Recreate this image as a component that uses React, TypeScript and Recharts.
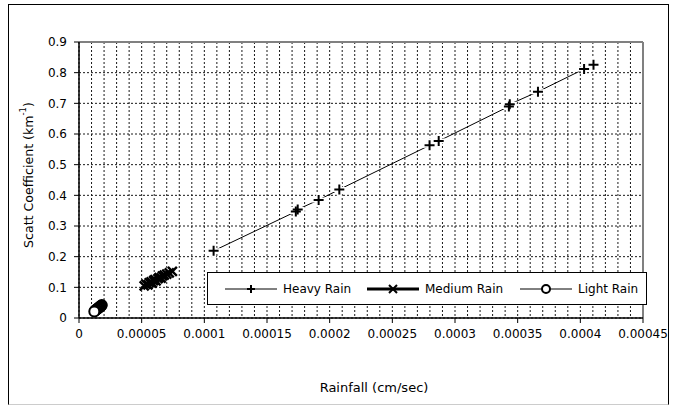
import React from 'react';
import { ScatterChart, Scatter, XAxis, YAxis, CartesianGrid, ReferenceLine, Legend } from 'recharts';

const heavyRain = [
  { x: 0.0001074, y: 0.219 },
  { x: 0.000173, y: 0.347 },
  { x: 0.0001745, y: 0.354 },
  { x: 0.0001912, y: 0.385 },
  { x: 0.0002077, y: 0.419 },
  { x: 0.0002797, y: 0.563 },
  { x: 0.000287, y: 0.577 },
  { x: 0.000343, y: 0.69 },
  { x: 0.0003437, y: 0.697 },
  { x: 0.0003662, y: 0.738 },
  { x: 0.000403, y: 0.812 },
  { x: 0.0004105, y: 0.826 },
];

const mediumRain = [
  { x: 0.000052, y: 0.105 },
  { x: 0.0000535, y: 0.11 },
  { x: 0.000055, y: 0.108 },
  { x: 0.000056, y: 0.115 },
  { x: 0.0000575, y: 0.118 },
  { x: 0.0000585, y: 0.114 },
  { x: 0.0000595, y: 0.122 },
  { x: 0.0000605, y: 0.125 },
  { x: 0.0000615, y: 0.121 },
  { x: 0.000063, y: 0.128 },
  { x: 0.000064, y: 0.132 },
  { x: 0.0000655, y: 0.13 },
  { x: 0.0000665, y: 0.137 },
  { x: 0.000068, y: 0.14 },
  { x: 0.00007, y: 0.143 },
  { x: 0.000072, y: 0.147 },
  { x: 0.0000745, y: 0.152 },
];

const lightRain = [
  { x: 0.0000182, y: 0.042 },
  { x: 0.0000177, y: 0.04 },
  { x: 0.0000171, y: 0.038 },
  { x: 0.0000165, y: 0.036 },
  { x: 0.0000159, y: 0.034 },
  { x: 0.0000153, y: 0.032 },
  { x: 0.0000146, y: 0.03 },
  { x: 0.000014, y: 0.028 },
  { x: 0.0000133, y: 0.026 },
  { x: 0.0000127, y: 0.024 },
  { x: 0.0000122, y: 0.021 },
];

const seriesNames = ['Heavy Rain', 'Medium Rain', 'Light Rain'];

const xDomain = [0, 0.00045];
const xTicks = [0, 0.00005, 0.0001, 0.00015, 0.0002, 0.00025, 0.0003, 0.00035, 0.0004, 0.00045];
const xTickLabels = ['0', '0.00005', '0.0001', '0.00015', '0.0002', '0.00025', '0.0003', '0.00035', '0.0004', '0.00045'];
const yTicks = [0, 0.1, 0.2, 0.3, 0.4, 0.5, 0.6, 0.7, 0.8, 0.9];
const yTickLabels = ['0', '0.1', '0.2', '0.3', '0.4', '0.5', '0.6', '0.7', '0.8', '0.9'];
const minorXTicks = Array.from({ length: 46 }, (_, i) => i * 0.00001);

const xTitle = 'Rainfall (cm/sec)';
const yTitle = 'Scatt Coefficient (km';

const FONT = 'DejaVu Sans';

const PlusHalo = (p: any) => {
  const { cx, cy } = p;
  if (cx == null || cy == null) return null;
  return (
    <path d={`M${cx - 7},${cy}H${cx + 7}M${cx},${cy - 7}V${cy + 7}`} stroke="#fff" strokeWidth={5} fill="none" />
  );
};

const PlusMarker = (p: any) => {
  const { cx, cy } = p;
  if (cx == null || cy == null) return null;
  return (
    <path d={`M${cx - 5},${cy}H${cx + 5}M${cx},${cy - 5}V${cy + 5}`} stroke="#000" strokeWidth={2} fill="none" />
  );
};

const XMarker = (p: any) => {
  const { cx, cy } = p;
  if (cx == null || cy == null) return null;
  const s = 4.5;
  return (
    <path d={`M${cx - s},${cy - s}L${cx + s},${cy + s}M${cx - s},${cy + s}L${cx + s},${cy - s}`} stroke="#000" strokeWidth={2.4} fill="none" />
  );
};

const CircleMarker = (p: any) => {
  const { cx, cy } = p;
  if (cx == null || cy == null) return null;
  return <circle cx={cx} cy={cy} r={5} fill="#fff" stroke="#000" strokeWidth={2} />;
};

const XTitle = (props: any) => {
  const vb = props.viewBox || { x: 79, width: 564 };
  return (
    <text x={vb.x + vb.width / 2 + 13} y={387} textAnchor="middle" dominantBaseline="central" fontSize={13} fontFamily={FONT} fill="#000">
      {xTitle}
    </text>
  );
};

const YTitle = () => (
  <text x={28} y={175} transform="rotate(-90, 28, 175)" textAnchor="middle" dominantBaseline="central" fontSize={12.6} fontFamily={FONT} fill="#000">
    {yTitle}
    <tspan dy={-5} fontSize={8.5}>-1</tspan>
    <tspan dy={5}>)</tspan>
  </text>
);

const LegendIcon = ({ kind }: { kind: number }) => (
  <svg width={52} height={14} style={{ display: 'block' }}>
    <line x1={0} y1={7} x2={52} y2={7} stroke="#000" strokeWidth={kind === 1 ? 3 : 1} />
    {kind === 0 && <path d="M22,7H30M26,3V11" stroke="#000" strokeWidth={2} />}
    {kind === 1 && <path d="M22,3L30,11M22,11L30,3" stroke="#000" strokeWidth={2} />}
    {kind === 2 && <circle cx={26} cy={7} r={4} fill="#fff" stroke="#000" strokeWidth={2} />}
  </svg>
);

const legendLefts = [17, 159, 312];

const LegendBox = () => (
  <div style={{ position: 'relative', width: 440, height: 33, boxSizing: 'border-box', border: '1px solid #000', background: '#fff', fontFamily: FONT, fontSize: 12, color: '#000' }}>
    {seriesNames.map((name, i) => (
      <div key={name} style={{ position: 'absolute', left: legendLefts[i], top: 8, display: 'flex', alignItems: 'center', height: 16 }}>
        <LegendIcon kind={i} />
        <span style={{ marginLeft: 6, whiteSpace: 'nowrap' }}>{name}</span>
      </div>
    ))}
  </div>
);

const minorVerticals = (args: any) => {
  const { xAxis, offset } = args || {};
  const sc = xAxis && xAxis.scale;
  return minorXTicks.map((t) => {
    if (typeof sc === 'function') {
      const v = sc(t);
      if (typeof v === 'number' && isFinite(v)) return v;
    }
    return offset.left + ((t - xDomain[0]) / (xDomain[1] - xDomain[0])) * offset.width;
  });
};

export default function App() {
  return (
    <div style={{ position: 'absolute', left: 0, top: 0, width: 675, height: 406, background: '#fff', overflow: 'hidden' }}>
      <div style={{ position: 'absolute', left: 8, top: 4, width: 661, height: 401, boxSizing: 'border-box', borderTop: '1px solid #000', borderLeft: '1px solid #000', borderRight: '1px solid #000', borderBottom: '1px solid #ccc' }} />
      <div style={{ position: 'absolute', left: 0, top: 0 }}>
        <ScatterChart width={675} height={406} margin={{ top: 42, right: 32, bottom: 58, left: 39 }} style={{ fontFamily: FONT }}>
          <CartesianGrid stroke="#1a1a1a" strokeDasharray="2 2" strokeWidth={1} verticalCoordinatesGenerator={minorVerticals} />
          <XAxis
            type="number"
            dataKey="x"
            domain={xDomain}
            ticks={xTicks}
            height={30}
            interval={0}
            tickSize={5}
            tickMargin={6}
            tickFormatter={(v: number) => xTickLabels[xTicks.indexOf(v)] ?? String(v)}
            tick={{ fill: '#000', fontSize: 12, fontFamily: FONT }}
            axisLine={{ stroke: '#000', strokeWidth: 1.5 }}
            tickLine={{ stroke: '#000' }}
            label={<XTitle />}
          />
          <YAxis
            type="number"
            dataKey="y"
            domain={[0, 0.9]}
            ticks={yTicks}
            width={40}
            interval={0}
            tickSize={5}
            tickMargin={7}
            tickFormatter={(v: number) => yTickLabels[yTicks.indexOf(v)] ?? String(v)}
            tick={{ fill: '#000', fontSize: 12, fontFamily: FONT }}
            axisLine={{ stroke: '#000', strokeWidth: 1.5 }}
            tickLine={{ stroke: '#000' }}
            label={<YTitle />}
          />
          <ReferenceLine y={0.9} stroke="#808080" strokeWidth={2} />
          <ReferenceLine x={0.00045} stroke="#808080" strokeWidth={2} />
          <Scatter name={seriesNames[2]} data={lightRain} line={{ stroke: '#000', strokeWidth: 1 }} shape={CircleMarker} isAnimationActive={false} legendType="none" />
          <Scatter name={seriesNames[1]} data={mediumRain} line={{ stroke: '#000', strokeWidth: 3 }} shape={XMarker} isAnimationActive={false} legendType="none" />
          <Scatter name={seriesNames[0] + ' halo'} data={heavyRain} line={{ stroke: '#000', strokeWidth: 1 }} shape={PlusHalo} isAnimationActive={false} legendType="none" />
          <Scatter name={seriesNames[0]} data={heavyRain} shape={PlusMarker} isAnimationActive={false} legendType="none" />
          <Legend
            layout="horizontal"
            verticalAlign="middle"
            align="center"
            content={() => <LegendBox />}
            wrapperStyle={{ position: 'absolute', left: 207, top: 272, width: 440, height: 33 }}
          />
        </ScatterChart>
      </div>
    </div>
  );
}
